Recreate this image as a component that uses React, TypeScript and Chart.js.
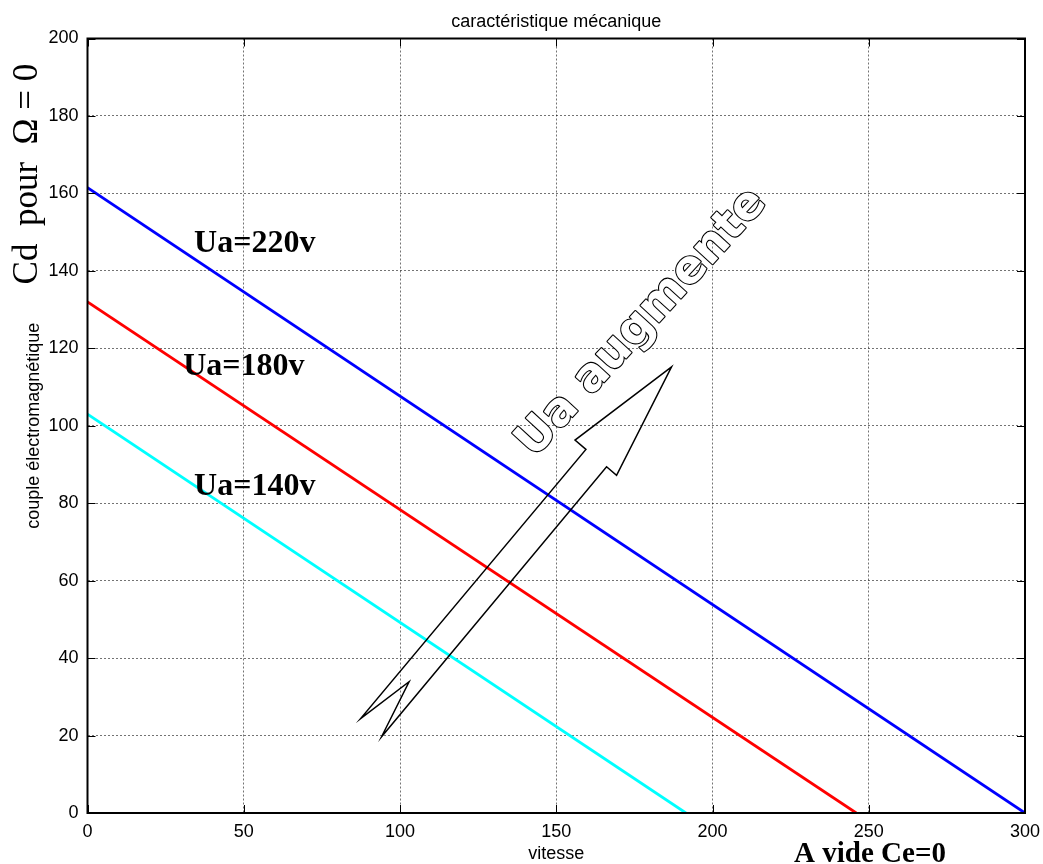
import React, { useEffect, useRef } from 'react';
import { Chart, registerables } from 'chart.js';

Chart.register(...registerables);

// ---- data ----
const xTickValues = [0, 50, 100, 150, 200, 250, 300];
const yTickValues = [0, 20, 40, 60, 80, 100, 120, 140, 160, 180, 200];

const speed220 = [0, 300];
const torque220 = [161.5, 0];
const speed180 = [0, 246];
const torque180 = [132, 0];
const speed140 = [0, 191.5];
const torque140 = [103, 0];

const seriesNames = ['Ua=220v', 'Ua=180v', 'Ua=140v'];
const seriesColors = ['#0000ff', '#ff0000', '#00ffff'];

const titleText = 'caractéristique mécanique';
const xTitle = 'vitesse';
const yTitle = 'couple électromagnétique';
const leftNote = 'Cd  pour  Ω = 0';
const bottomNote = 'A vide Ce=0';
const arrowText = 'Ua augmente';

// annotation anchors (data units)
const seriesLabelX = [34.1, 30.6, 34.1];
const seriesLabelY = [144.8, 113.0, 82.1];
const arrowX = [186.9, 156.0, 159.5, 87.4, 102.9, 94.1, 166.1, 169.3];
const arrowY = [115.2, 96.3, 93.9, 24.4, 33.9, 19.7, 89.4, 87.2];
const arrowTextAt = { x: 177.5, y: 126.5, angleDeg: -47.5 };
const leftNoteCenterY = 165;
const bottomNoteCenterX = 250.4;

const SANS = '"Liberation Sans", Arial, sans-serif';
const SERIF = '"Liberation Serif", "Times New Roman", serif';

const toPoints = (xs: number[], ys: number[]) => xs.map((x, i) => ({ x, y: ys[i] }));

const annotPlugin = {
  id: 'annot',
  beforeDraw(chart: any) {
    const { ctx, width, height } = chart;
    ctx.save();
    ctx.fillStyle = '#ffffff';
    ctx.fillRect(0, 0, width, height);
    ctx.restore();
  },
  afterDatasetsDraw(chart: any) {
    const { ctx, chartArea: ca, scales } = chart;
    const xs = scales.x;
    const ys = scales.y;
    ctx.save();

    // inward ticks
    ctx.strokeStyle = '#000';
    ctx.lineWidth = 1;
    const tl = 8;
    ctx.beginPath();
    xTickValues.forEach((v) => {
      const px = Math.round(xs.getPixelForValue(v)) + 0.5;
      ctx.moveTo(px, ca.bottom);
      ctx.lineTo(px, ca.bottom - tl);
      ctx.moveTo(px, ca.top);
      ctx.lineTo(px, ca.top + tl);
    });
    yTickValues.forEach((v) => {
      const py = Math.round(ys.getPixelForValue(v)) + 0.5;
      ctx.moveTo(ca.left, py);
      ctx.lineTo(ca.left + tl, py);
      ctx.moveTo(ca.right, py);
      ctx.lineTo(ca.right - tl, py);
    });
    ctx.stroke();

    // box
    ctx.lineWidth = 2;
    ctx.strokeRect(ca.left, ca.top, ca.right - ca.left, ca.bottom - ca.top);

    // title
    ctx.fillStyle = '#000';
    ctx.font = `18px ${SANS}`;
    ctx.textAlign = 'center';
    ctx.textBaseline = 'alphabetic';
    ctx.fillText(titleText, (ca.left + ca.right) / 2, 27);

    // series labels
    ctx.font = `bold 32px ${SERIF}`;
    ctx.textAlign = 'left';
    seriesNames.forEach((name, i) => {
      ctx.fillText(name, xs.getPixelForValue(seriesLabelX[i]), ys.getPixelForValue(seriesLabelY[i]));
    });

    // arrow outline
    ctx.beginPath();
    arrowX.forEach((v, i) => {
      const px = xs.getPixelForValue(v);
      const py = ys.getPixelForValue(arrowY[i]);
      if (i === 0) ctx.moveTo(px, py);
      else ctx.lineTo(px, py);
    });
    ctx.closePath();
    ctx.lineWidth = 1.5;
    ctx.lineJoin = 'miter';
    ctx.strokeStyle = '#000';
    ctx.stroke();

    // outlined text
    ctx.save();
    ctx.translate(xs.getPixelForValue(arrowTextAt.x), ys.getPixelForValue(arrowTextAt.y));
    ctx.rotate((arrowTextAt.angleDeg * Math.PI) / 180);
    ctx.font = `bold 46px "DejaVu Sans", sans-serif`;
    ctx.textAlign = 'center';
    ctx.textBaseline = 'middle';
    ctx.lineJoin = 'round';
    ctx.lineWidth = 2.2;
    ctx.fillStyle = '#fff';
    ctx.strokeStyle = '#000';
    ctx.strokeText(arrowText, 0, 0);
    ctx.fillText(arrowText, 0, 0);
    ctx.restore();

    // left rotated note
    ctx.save();
    ctx.translate(37, ys.getPixelForValue(leftNoteCenterY));
    ctx.rotate(-Math.PI / 2);
    ctx.font = `35px ${SERIF}`;
    ctx.fillStyle = '#000';
    ctx.textAlign = 'center';
    ctx.textBaseline = 'alphabetic';
    ctx.fillText(leftNote, 0, 0);
    ctx.restore();

    // bottom note
    ctx.font = `bold 29px ${SERIF}`;
    ctx.fillStyle = '#000';
    ctx.textAlign = 'center';
    ctx.textBaseline = 'alphabetic';
    ctx.fillText(bottomNote, xs.getPixelForValue(bottomNoteCenterX), chart.height - 2);

    ctx.restore();
  },
};

export default function App() {
  const ref = useRef<HTMLCanvasElement>(null);

  useEffect(() => {
    const canvas = ref.current;
    if (!canvas) return;
    const datasets = [
      toPoints(speed220, torque220),
      toPoints(speed180, torque180),
      toPoints(speed140, torque140),
    ].map((pts, i) => ({
      label: seriesNames[i],
      data: pts,
      borderColor: seriesColors[i],
      backgroundColor: seriesColors[i],
      borderWidth: 2.8,
      pointRadius: 0,
      tension: 0,
      fill: false,
    }));

    const chart = new Chart(canvas, {
      type: 'line',
      data: { datasets },
      options: {
        animation: false,
        responsive: false,
        maintainAspectRatio: false,
        devicePixelRatio: 1,
        layout: { padding: { left: 0, right: 18, top: 38.5, bottom: 0 } },
        plugins: {
          legend: { display: false },
          tooltip: { enabled: false },
          title: { display: false },
        },
        scales: {
          x: {
            type: 'linear',
            min: 0,
            max: 300,
            afterBuildTicks: (scale: any) => {
              scale.ticks = xTickValues.map((v) => ({ value: v }));
            },
            afterFit: (scale: any) => {
              scale.height = 51;
              scale.paddingLeft = 0;
              scale.paddingRight = 0;
            },
            grid: { color: 'rgba(0,0,0,0.55)', lineWidth: 1, drawTicks: false },
            border: { display: false, dash: [2, 2] },
            ticks: {
              color: '#000',
              font: { family: SANS, size: 18 },
              padding: 8,
              maxRotation: 0,
              autoSkip: false,
            },
            title: {
              display: true,
              text: xTitle,
              color: '#000',
              font: { family: SANS, size: 18, lineHeight: 1.1 },
              padding: { top: 0, bottom: 0 },
            },
          },
          y: {
            type: 'linear',
            min: 0,
            max: 200,
            afterBuildTicks: (scale: any) => {
              scale.ticks = yTickValues.map((v) => ({ value: v }));
            },
            afterFit: (scale: any) => {
              scale.width = 87.5;
              scale.paddingTop = 0;
              scale.paddingBottom = 0;
            },
            grid: { color: 'rgba(0,0,0,0.55)', lineWidth: 1, drawTicks: false },
            border: { display: false, dash: [2, 2] },
            ticks: {
              color: '#000',
              font: { family: SANS, size: 18 },
              padding: 9,
              autoSkip: false,
            },
            title: {
              display: true,
              text: yTitle,
              color: '#000',
              font: { family: SANS, size: 18, lineHeight: 1.1 },
              padding: { top: 24, bottom: 0 },
            },
          },
        },
      },
      plugins: [annotPlugin],
    } as any);

    return () => chart.destroy();
  }, []);

  return (
    <div style={{ position: 'fixed', left: 0, top: 0, width: 1043, height: 864, background: '#fff' }}>
      <canvas ref={ref} width={1043} height={864} style={{ display: 'block', width: 1043, height: 864 }} />
    </div>
  );
}
